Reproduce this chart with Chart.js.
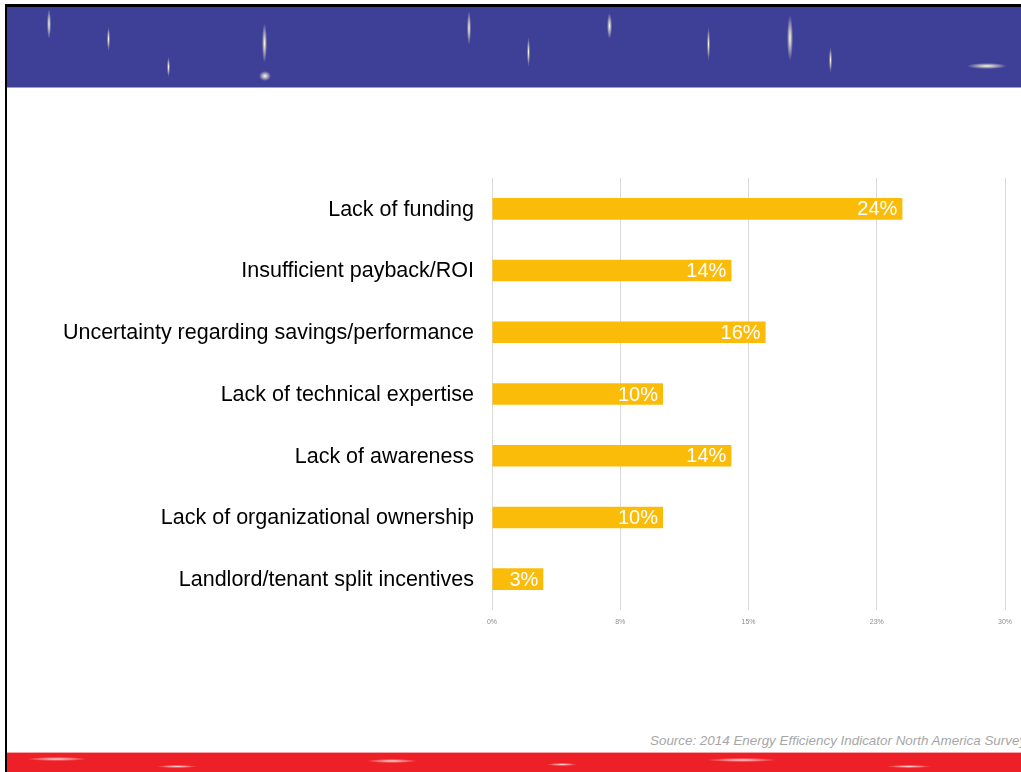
<!DOCTYPE html>
<html lang="en">
<head>
    <meta charset="UTF-8">
    <title>Barriers to Energy Efficiency</title>
    <script src="https://cdn.jsdelivr.net/npm/chart.js"></script>
    <style>
        html, body { margin: 0; padding: 0; background: #fff; }
        #slide { position: relative; width: 1021px; height: 772px; overflow: hidden; background: #fff; }
        #frameTop { position: absolute; left: 5px; top: 4px; right: 0; height: 3px; background: #000; }
        #frameLeft { position: absolute; left: 5px; top: 4px; width: 2px; bottom: 0; background: #000; }
        #header {
            position: absolute; left: 7px; top: 7px; right: 0; height: 81px;
            background-color: #3e3f97;
            background-repeat: no-repeat;
            background-image:
                radial-gradient(closest-side, #fffbd6, transparent),
                radial-gradient(closest-side, #fffbd6, transparent),
                radial-gradient(closest-side, #fffbd6, transparent),
                radial-gradient(closest-side, #fffbd6, transparent),
                radial-gradient(closest-side, #fffbd6, transparent),
                radial-gradient(closest-side, #fffbd6, transparent),
                radial-gradient(closest-side, #fffbd6, transparent),
                radial-gradient(closest-side, #fffbd6, transparent),
                radial-gradient(closest-side, #fffbd6, transparent),
                radial-gradient(closest-side, #fffbd6, transparent),
                radial-gradient(closest-side, #fffbd6, transparent),
                radial-gradient(closest-side, #fffbd6, transparent),
                radial-gradient(closest-side, #fffbd6, transparent),
                radial-gradient(closest-side, #fffbd6, transparent),
                radial-gradient(closest-side, #fffbd6, transparent),
                radial-gradient(closest-side, #fffbd6, transparent),
                radial-gradient(closest-side, #fffbd6, transparent),
                radial-gradient(closest-side, #fffbd6, transparent);
            background-size:
                4px 30px, 3px 24px, 5px 40px, 3px 20px, 4px 34px, 6px 46px, 3px 26px,
                40px 6px, 4px 28px, 5px 36px, 3px 22px, 6px 40px, 4px 30px, 3px 18px,
                12px 10px, 3px 30px, 5px 26px, 3px 34px;
            background-position:
                40px 2px, 100px 20px, 255px 16px, 160px 50px, 460px 4px, 780px 8px, 822px 40px,
                960px 56px, 1110px 34px, 1320px 10px, 1380px 40px, 1436px 20px, 1490px 30px, 1550px 14px,
                252px 64px, 520px 30px, 600px 6px, 700px 20px;
        }
        #header::after { content: ""; position: absolute; left: 0; right: 0; bottom: 0; height: 1px; background: #9fa0d0; }
        #footer {
            position: absolute; left: 7px; top: 752px; right: 0; height: 20px;
            background-color: #ee2027;
            background-repeat: no-repeat;
            background-image:
                radial-gradient(closest-side, #ffd8d8, transparent),
                radial-gradient(closest-side, #ffd8d8, transparent),
                radial-gradient(closest-side, #ffd8d8, transparent),
                radial-gradient(closest-side, #ffd8d8, transparent),
                radial-gradient(closest-side, #ffd8d8, transparent),
                radial-gradient(closest-side, #ffd8d8, transparent);
            background-size: 60px 4px, 40px 3px, 50px 4px, 30px 3px, 70px 4px, 44px 3px;
            background-position: 20px 4px, 150px 12px, 360px 6px, 540px 10px, 700px 5px, 880px 12px;
            border-top: 1px solid #f6a3a6;
        }
        #source {
            position: absolute; left: 650px; top: 733px; white-space: nowrap;
            font: italic 13.4px "Liberation Sans", Arial, sans-serif; color: #a6a6a6;
        }
        #chartBox { position: absolute; left: 0; top: 0; width: 1021px; height: 772px; }
    </style>
</head>
<body>
<div id="slide">
    <div id="header"></div>
    <div id="footer"></div>
    <div id="frameTop"></div>
    <div id="frameLeft"></div>
    <div id="source">Source: 2014 Energy Efficiency Indicator North America Survey</div>
    <div id="chartBox"><canvas id="myChart"></canvas></div>
</div>
<script>
    // 数値はグラフから読み取り
    const categories = [
        'Lack of funding',
        'Insufficient payback/ROI',
        'Uncertainty regarding savings/performance',
        'Lack of technical expertise',
        'Lack of awareness',
        'Lack of organizational ownership',
        'Landlord/tenant split incentives'
    ];
    const values = [24, 14, 16, 10, 14, 10, 3];
    const tickLabels = ['0%', '8%', '15%', '23%', '30%'];

    const fontFamily = '"Liberation Sans", Arial, sans-serif';

    // バーの右端に白い値ラベルを描く
    const barLabels = {
        id: 'barLabels',
        afterDatasetsDraw(chart) {
            const ctx = chart.ctx;
            const meta = chart.getDatasetMeta(0);
            ctx.save();
            ctx.fillStyle = '#ffffff';
            ctx.font = '20px ' + fontFamily;
            ctx.textAlign = 'right';
            ctx.textBaseline = 'middle';
            meta.data.forEach((bar, i) => {
                ctx.fillText(values[i] + '%', bar.x - 5, bar.y + 1);
            });
            ctx.restore();
        }
    };

    const ctx = document.getElementById('myChart').getContext('2d');
    new Chart(ctx, {
        type: 'bar',
        data: {
            labels: categories,
            datasets: [{
                data: values,
                backgroundColor: '#fbbc09',
                categoryPercentage: 1.0,
                barPercentage: 0.35
            }]
        },
        options: {
            indexAxis: 'y',
            responsive: true,
            maintainAspectRatio: false,
            animation: false,
            layout: { padding: { top: 178, right: 16, bottom: 142, left: 10 } },
            plugins: {
                legend: { display: false },
                tooltip: { enabled: false }
            },
            scales: {
                x: {
                    min: 0,
                    max: 30,
                    afterFit(scale) { scale.height = 20; },
                    ticks: {
                        stepSize: 7.5,
                        padding: 8,
                        color: '#8c8c8c',
                        font: { size: 7, family: fontFamily },
                        callback: (v, i) => tickLabels[i]
                    },
                    grid: { color: '#d9d9d9', drawTicks: false },
                    border: { display: false }
                },
                y: {
                    afterFit(scale) { scale.width = 482; },
                    ticks: {
                        padding: 18,
                        labelOffset: 1,
                        color: '#000000',
                        font: { size: 21.5, family: fontFamily }
                    },
                    grid: { display: false, drawTicks: false },
                    border: { display: false }
                }
            }
        },
        plugins: [barLabels]
    });
</script>
</body>
</html>
